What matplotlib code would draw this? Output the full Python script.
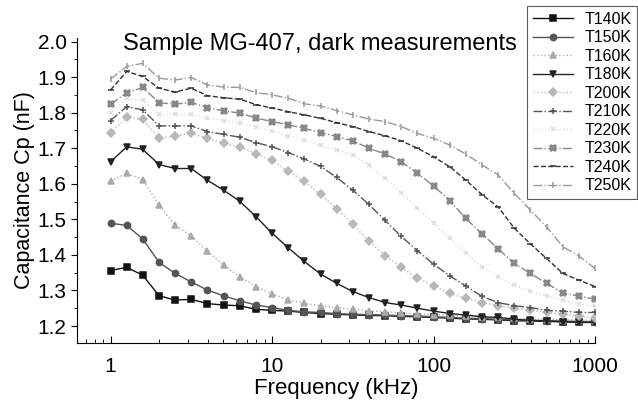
import numpy as np
import matplotlib
matplotlib.use("Agg")
import matplotlib.pyplot as plt
from matplotlib.ticker import MultipleLocator, LogLocator, NullFormatter

plt.rcParams['font.family'] = ['Liberation Sans', 'DejaVu Sans']

# frequency points, 10 per decade from 1 to 1000 kHz
freq = [1.0, 1.26, 1.58, 2.0, 2.51, 3.16, 3.98, 5.01, 6.31, 7.94,
        10.0, 12.6, 15.8, 20.0, 25.1, 31.6, 39.8, 50.1, 63.1, 79.4,
        100.0, 126, 158, 200, 251, 316, 398, 501, 631, 794, 1000]

t140 = [1.356, 1.365, 1.343, 1.285, 1.273, 1.275, 1.263, 1.259, 1.257, 1.247,
        1.244, 1.242, 1.238, 1.235, 1.233, 1.231, 1.230, 1.229, 1.227, 1.226,
        1.224, 1.222, 1.220, 1.219, 1.217, 1.215, 1.214, 1.213, 1.212, 1.211, 1.210]
t150 = [1.489, 1.483, 1.445, 1.379, 1.348, 1.324, 1.301, 1.285, 1.271, 1.259,
        1.252, 1.244, 1.240, 1.238, 1.235, 1.233, 1.232, 1.231, 1.229, 1.228,
        1.226, 1.224, 1.222, 1.221, 1.219, 1.217, 1.216, 1.215, 1.214, 1.213, 1.212]
t160 = [1.608, 1.629, 1.612, 1.539, 1.483, 1.454, 1.410, 1.372, 1.339, 1.311,
        1.291, 1.273, 1.264, 1.257, 1.252, 1.247, 1.243, 1.240, 1.237, 1.234,
        1.232, 1.230, 1.228, 1.226, 1.224, 1.222, 1.220, 1.219, 1.218, 1.217, 1.216]
t180 = [1.662, 1.704, 1.697, 1.654, 1.643, 1.643, 1.610, 1.582, 1.551, 1.508,
        1.461, 1.420, 1.382, 1.346, 1.320, 1.297, 1.280, 1.266, 1.259, 1.250,
        1.242, 1.235, 1.231, 1.226, 1.224, 1.219, 1.216, 1.214, 1.212, 1.210, 1.210]
t200 = [1.742, 1.787, 1.781, 1.729, 1.734, 1.742, 1.728, 1.714, 1.703, 1.685,
        1.666, 1.635, 1.608, 1.570, 1.530, 1.486, 1.438, 1.398, 1.365, 1.335,
        1.313, 1.292, 1.278, 1.266, 1.257, 1.250, 1.244, 1.238, 1.233, 1.228, 1.223]
t210 = [1.778, 1.817, 1.808, 1.763, 1.763, 1.763, 1.747, 1.739, 1.731, 1.716,
        1.704, 1.688, 1.670, 1.649, 1.618, 1.582, 1.542, 1.497, 1.452, 1.412,
        1.374, 1.341, 1.313, 1.283, 1.266, 1.257, 1.252, 1.244, 1.242, 1.238, 1.238]
t220 = [1.800, 1.840, 1.835, 1.795, 1.795, 1.795, 1.785, 1.778, 1.772, 1.761,
        1.748, 1.735, 1.722, 1.708, 1.695, 1.681, 1.652, 1.616, 1.575, 1.531,
        1.490, 1.447, 1.405, 1.367, 1.338, 1.315, 1.298, 1.285, 1.272, 1.262, 1.255]
t230 = [1.824, 1.856, 1.871, 1.828, 1.824, 1.829, 1.814, 1.805, 1.799, 1.785,
        1.775, 1.766, 1.756, 1.744, 1.733, 1.721, 1.700, 1.684, 1.662, 1.630,
        1.594, 1.553, 1.503, 1.459, 1.417, 1.376, 1.348, 1.320, 1.293, 1.284, 1.275]
t240 = [1.864, 1.916, 1.902, 1.869, 1.858, 1.869, 1.848, 1.842, 1.838, 1.823,
        1.813, 1.803, 1.794, 1.784, 1.772, 1.761, 1.747, 1.735, 1.721, 1.700,
        1.676, 1.648, 1.611, 1.569, 1.535, 1.475, 1.431, 1.390, 1.348, 1.329, 1.311]
t250 = [1.895, 1.930, 1.939, 1.897, 1.892, 1.899, 1.878, 1.872, 1.871, 1.857,
        1.850, 1.841, 1.825, 1.819, 1.806, 1.794, 1.782, 1.775, 1.761, 1.742,
        1.728, 1.709, 1.684, 1.653, 1.625, 1.573, 1.526, 1.479, 1.423, 1.397, 1.362]

series = [
    ('T140K', t140, '#111111', 's', '-', 4.5),
    ('T150K', t150, '#555555', 'o', '-', 4.5),
    ('T160K', t160, '#aaaaaa', '^', ':', 4.5),
    ('T180K', t180, '#222222', 'v', '-', 5),
    ('T200K', t200, '#b8b8b8', 'D', ':', 4),
    ('T210K', t210, '#555555', '+', '-.', 4.5),
    ('T220K', t220, '#dddddd', 'x', ':', 3.5),
    ('T230K', t230, '#888888', 'X', '-.', 4.5),
    ('T240K', t240, '#333333', '_', '--', 5),
    ('T250K', t250, '#999999', '|', '-.', 5),
]

fig = plt.figure(figsize=(6.38, 4.03), dpi=100)
ax = fig.add_axes([0.1207, 0.1496, 0.812, 0.756])

for name, vals, col, mk, ls, ms in series:
    ax.plot(freq, vals, color=col, marker=mk, linestyle=ls, linewidth=1,
            markersize=ms, markeredgewidth=1.1, label=name)

ax.set_xscale('log')
ax.set_xlim(0.62, 1000)
ax.set_ylim(1.153, 2.01)
ax.set_xticks([1, 10, 100, 1000])
ax.set_xticklabels(['1', '10', '100', '1000'])
ax.xaxis.set_minor_locator(LogLocator(base=10, subs=np.arange(2, 10)))
ax.xaxis.set_minor_formatter(NullFormatter())
ax.set_yticks([1.2, 1.3, 1.4, 1.5, 1.6, 1.7, 1.8, 1.9, 2.0])
ax.yaxis.set_minor_locator(MultipleLocator(0.05))

ax.spines['top'].set_visible(False)
ax.spines['right'].set_visible(False)
ax.tick_params(axis='x', which='both', direction='in', labelsize=15, pad=10)
ax.tick_params(axis='x', which='major', length=5)
ax.tick_params(axis='x', which='minor', length=3)
ax.tick_params(axis='y', which='both', direction='out', labelsize=15)
ax.tick_params(axis='y', which='major', length=4)
ax.tick_params(axis='y', which='minor', length=2)

ax.set_xlabel('Frequency (kHz)', fontsize=16, labelpad=2)
ax.set_ylabel('Capacitance Cp (nF)', fontsize=15.5, labelpad=2)

fig.text(320 / 638, 1 - 44 / 403, 'Sample MG-407, dark measurements',
         fontsize=17, ha='center', va='center')

leg = fig.legend(loc='upper right', bbox_to_anchor=(0.999, 0.985), fontsize=11.5,
                 frameon=True, fancybox=False, edgecolor='#333333',
                 handlelength=2.5, labelspacing=0.22, borderpad=0.35,
                 handletextpad=0.75, borderaxespad=0)
leg.get_frame().set_linewidth(0.8)

fig.savefig('out.png', dpi=100)
